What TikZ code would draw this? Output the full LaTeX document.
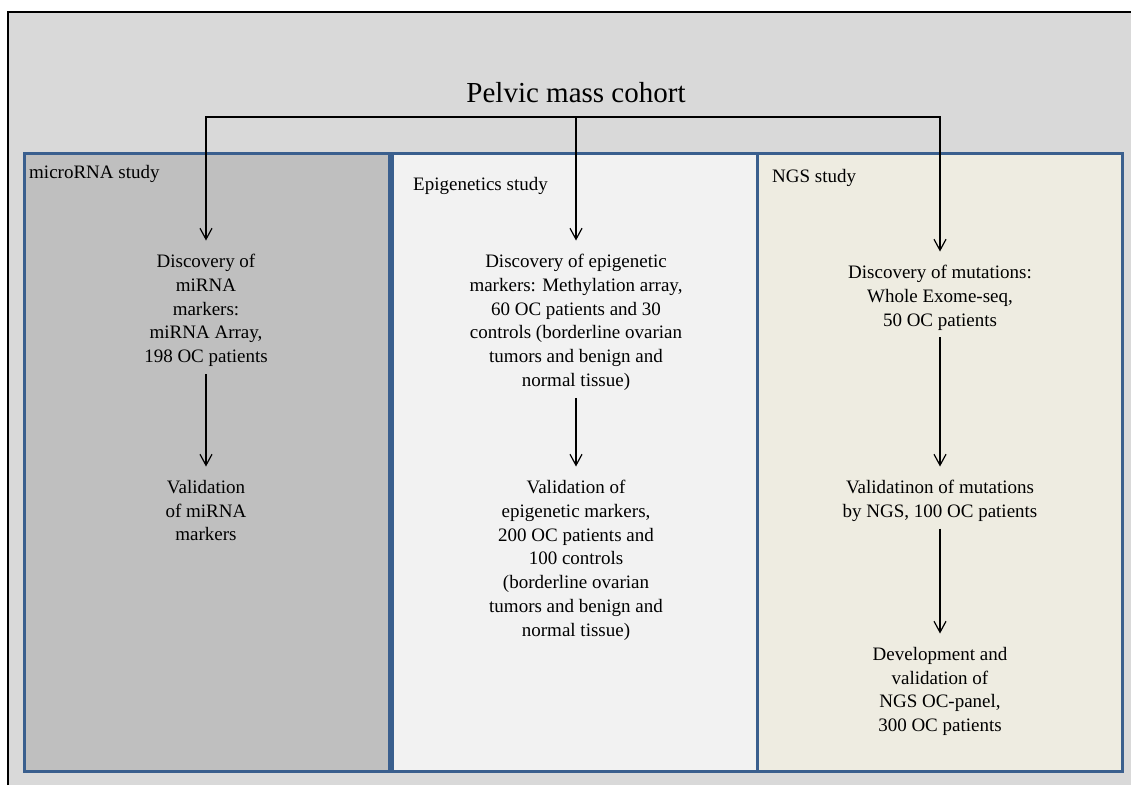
\documentclass[tikz,border=0pt]{standalone}
\usepackage{fontspec}
\setmainfont{Liberation Serif}
\usetikzlibrary{arrows.meta, positioning}

\definecolor{panelblue}{HTML}{3A5F8E}
\definecolor{bggrey}{HTML}{D9D9D9}
\definecolor{mirnafill}{HTML}{BFBFBF}
\definecolor{epifill}{HTML}{F2F2F2}
\definecolor{ngsfill}{HTML}{EEECE1}

\begin{document}
\begin{tikzpicture}[x=1pt, y=-1pt,
    >={Straight Barb[length=11pt, width=12pt]},
    flow/.style={->, line width=1.2pt, shorten >=6.5pt},
    panel/.style={draw=panelblue, line width=3pt},
    stepnode/.style={align=center, anchor=north, inner xsep=2pt, inner ysep=7pt,
        font=\fontsize{19}{23.8}\selectfont},
    studylabel/.style={anchor=base west, inner sep=0pt, font=\fontsize{19}{23.8}\selectfont}]

        \useasboundingbox (0,0) rectangle (1131,785);

        % Background and outer frame
        \fill[white] (0,0) rectangle (1131,785);
        \fill[bggrey] (8,12) rectangle (1131,785);
        \draw[line width=1.3pt] (8,785) -- (8,12) -- (1131,12);

        % Study panels
        \filldraw[panel, fill=mirnafill] (24,153) rectangle (389,771);
        \filldraw[panel, fill=epifill] (392,153) rectangle (757,771);
        \filldraw[panel, fill=ngsfill] (757,153) rectangle (1122,771);

        % Panel labels
        \node[studylabel] (lmirna) at (29,178) {microRNA study};
        \node[studylabel] (lepi) at (413,190) {Epigenetics study};
        \node[studylabel] (lngs) at (772,182) {NGS study};

        % Cohort title
        \node[anchor=base, font=\fontsize{29}{34}\selectfont] (cohort) at (576,102) {Pelvic mass cohort};
        \coordinate (hub) at (576,117);

        % microRNA study steps
        \node[stepnode] (disc1) at (206,247) {Discovery of\\miRNA\\markers:\\miRNA Array,\\198 OC patients};
        \node[stepnode] (val1) at (206,473) {Validation\\of miRNA\\markers};

        % Epigenetics study steps
        \node[stepnode] (disc2) at (576,247) {Discovery of epigenetic\\markers: Methylation array,\\60 OC patients and 30\\controls (borderline ovarian\\tumors and benign and\\normal tissue)};
        \node[stepnode] (val2) at (576,473) {Validation of\\epigenetic markers,\\200 OC patients and\\100 controls\\(borderline ovarian\\tumors and benign and\\normal tissue)};

        % NGS study steps
        \node[stepnode] (disc3) at (940,258) {Discovery of mutations:\\Whole Exome-seq,\\50 OC patients};
        \node[stepnode] (val3) at (940,473) {Validatinon of mutations\\by NGS, 100 OC patients};
        \node[stepnode] (dev3) at (940,640) {Development and\\validation of\\NGS OC-panel,\\300 OC patients};

        % Cohort split
        \draw[flow] (hub) -| (disc1);
        \draw[flow] (hub) -- (disc2);
        \draw[flow] (hub) -| (disc3);

        % Study flows
        \draw[flow] (disc1) -- (val1);
        \draw[flow] (disc2) -- (val2);
        \draw[flow] (disc3) -- (val3);
        \draw[flow] (val3) -- (dev3);

    \end{tikzpicture}
\end{document}
